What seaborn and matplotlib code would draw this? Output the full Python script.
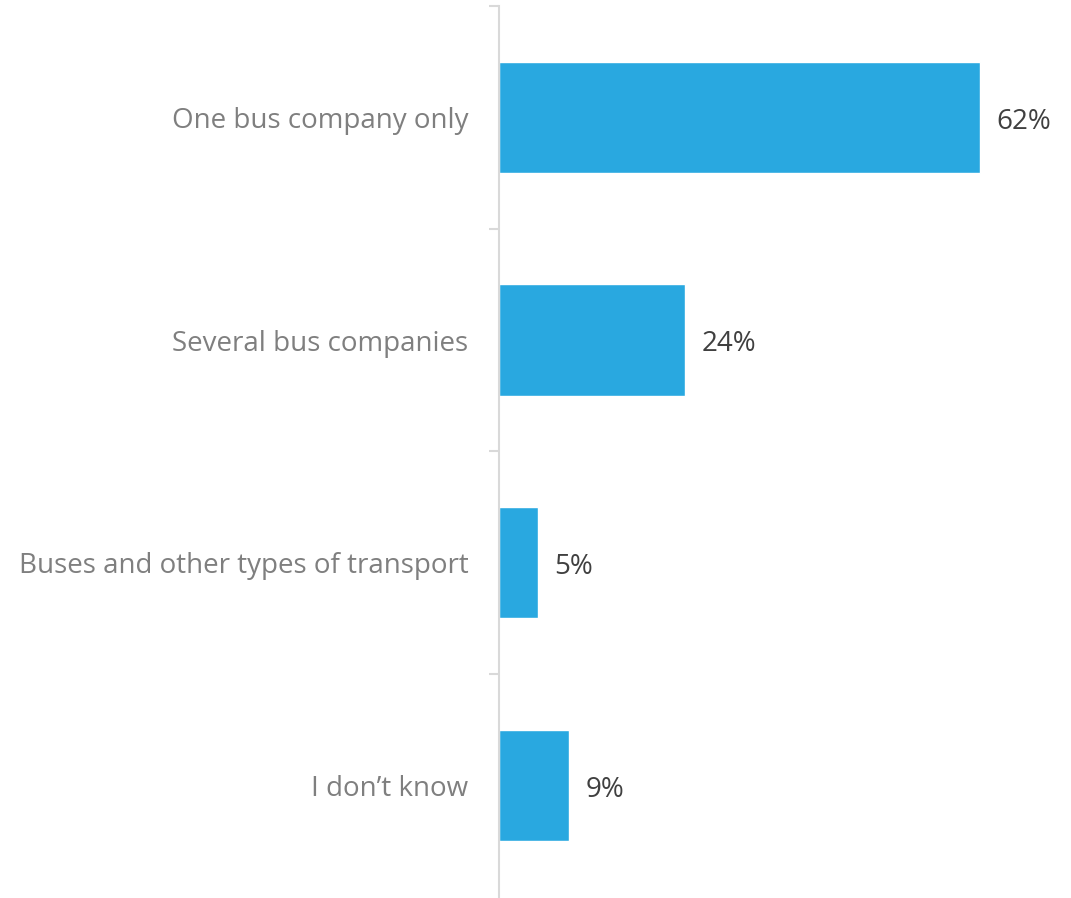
import numpy as np
import pandas as pd
import matplotlib
matplotlib.use("Agg")
import matplotlib.pyplot as plt
import seaborn as sns

# ======================================
# DADOS
# ======================================
categorias = [
    "One bus company only",
    "Several bus companies",
    "Buses and other types of transport",
    "I don\u2019t know",
]
valores = [62, 24, 5, 9]

df = pd.DataFrame({"categoria": categorias, "valor": valores})

# ======================================
# FIGURA
# ======================================
sns.set_style("white")
plt.rcParams["font.family"] = ["Open Sans", "DejaVu Sans"]

fig = plt.figure(figsize=(10.71, 8.98), dpi=100)
ax = fig.add_axes([499 / 1071, 0.0, 1 - 499 / 1071, 1 - 6 / 898])

sns.barplot(data=df, y="categoria", x="valor", orient="h",
            color="#29A8E0", saturation=1, width=0.5, ax=ax)

ax.set_xlim(0, 73.7)
ax.set_ylim(len(categorias) - 0.5 + 0.005, -0.5)

# rótulos de valor
for cont in ax.containers:
    textos = ax.bar_label(cont, labels=[f"{v}%" for v in valores], padding=12,
                          fontsize=20, color="#404040")
    for t in textos:
        t.xyann = (12, -3)

# eixos
for lado in ["top", "right", "bottom"]:
    ax.spines[lado].set_visible(False)
ax.spines["left"].set_color("#D9D9D9")
ax.spines["left"].set_linewidth(1.5)

ax.set_xticks([])
ax.set_xlabel("")
ax.set_ylabel("")
ax.set_yticks(range(len(categorias)))
ax.set_yticklabels(categorias, fontsize=20, color="#7F7F7F")
ax.tick_params(axis="y", which="major", length=0, pad=22)
# marcas nas divisões entre categorias (a última fica fora da imagem)
ax.set_yticks(np.arange(-0.5, len(categorias) - 1, 1), minor=True)
ax.tick_params(axis="y", which="minor", left=True, length=7, width=1.5,
               color="#D9D9D9")

fig.savefig("out.png", dpi=100, facecolor="white")
